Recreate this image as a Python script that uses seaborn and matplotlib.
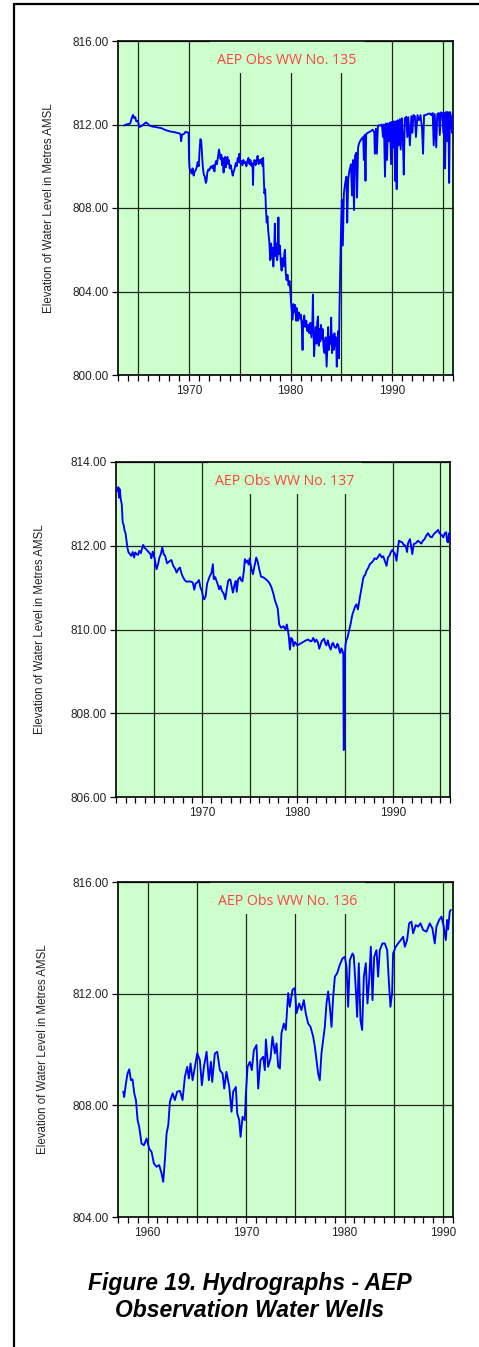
import matplotlib
matplotlib.use("Agg")
import matplotlib.pyplot as plt
import matplotlib.ticker as mticker
from matplotlib.patches import Rectangle
from matplotlib.lines import Line2D
import seaborn as sns
import pandas as pd

# ---------------- data ----------------
t135 = [1963.60, 1963.80, 1964.00, 1964.20, 1964.35, 1964.48, 1964.60, 1964.70, 1964.80, 1964.95,
        1965.10, 1965.30, 1965.50, 1965.75, 1965.90, 1966.10, 1966.40, 1966.70, 1967.00, 1967.30,
        1967.60, 1967.90, 1968.20, 1968.50, 1968.80, 1969.00, 1969.15, 1969.22, 1969.30, 1969.50,
        1969.65, 1969.85, 1969.95, 1970.00, 1970.05, 1970.15, 1970.25, 1970.35, 1970.45, 1970.55,
        1970.65, 1970.75, 1970.85, 1970.95, 1971.05, 1971.12, 1971.20, 1971.28, 1971.35, 1971.45,
        1971.55, 1971.65, 1971.72, 1971.80, 1971.90, 1972.00, 1972.10, 1972.20, 1972.30, 1972.40,
        1972.50, 1972.55, 1972.65, 1972.75, 1972.85, 1972.95, 1973.02, 1973.10, 1973.18, 1973.25,
        1973.32, 1973.40, 1973.48, 1973.55, 1973.62, 1973.70, 1973.78, 1973.85, 1973.92, 1974.00,
        1974.10, 1974.20, 1974.30, 1974.40, 1974.50, 1974.60, 1974.70, 1974.80, 1974.88, 1974.95,
        1975.05, 1975.15, 1975.25, 1975.35, 1975.45, 1975.55, 1975.65, 1975.75, 1975.85, 1975.95,
        1976.05, 1976.15, 1976.25, 1976.30, 1976.35, 1976.45, 1976.55, 1976.65, 1976.75, 1976.85,
        1976.95, 1977.05, 1977.15, 1977.25, 1977.30, 1977.35, 1977.42, 1977.50, 1977.58, 1977.65,
        1977.72, 1977.80, 1977.90, 1978.00, 1978.08, 1978.15, 1978.22, 1978.30, 1978.38, 1978.45,
        1978.52, 1978.60, 1978.68, 1978.75, 1978.80, 1978.86, 1978.95, 1979.05, 1979.12, 1979.20,
        1979.30, 1979.40, 1979.45, 1979.52, 1979.60, 1979.70, 1979.80, 1979.90, 1979.95, 1980.05,
        1980.12, 1980.20, 1980.28, 1980.36, 1980.45, 1980.55, 1980.62, 1980.72, 1980.80, 1980.90,
        1981.00, 1981.10, 1981.18, 1981.25, 1981.35, 1981.45, 1981.55, 1981.65, 1981.75, 1981.85,
        1981.95, 1982.05, 1982.15, 1982.20, 1982.25, 1982.32, 1982.40, 1982.48, 1982.55, 1982.62,
        1982.70, 1982.78, 1982.85, 1982.92, 1983.00, 1983.08, 1983.16, 1983.25, 1983.35, 1983.45,
        1983.55, 1983.62, 1983.70, 1983.78, 1983.86, 1983.94, 1984.00, 1984.08, 1984.16, 1984.24,
        1984.32, 1984.40, 1984.48, 1984.55, 1984.62, 1984.70, 1984.76, 1984.82, 1984.90, 1984.96,
        1985.05, 1985.15, 1985.25, 1985.38, 1985.50, 1985.58, 1985.68, 1985.80, 1985.95, 1986.05,
        1986.15, 1986.25, 1986.35, 1986.48, 1986.55, 1986.65, 1986.75, 1986.90, 1987.05, 1987.15,
        1987.22, 1987.30, 1987.38, 1987.45, 1987.60, 1987.80, 1987.95, 1988.10, 1988.25, 1988.30,
        1988.40, 1988.50, 1988.60, 1988.70, 1988.85, 1989.00, 1989.10, 1989.20, 1989.30, 1989.40,
        1989.50, 1989.60, 1989.72, 1989.80, 1989.90, 1990.00, 1990.10, 1990.20, 1990.30, 1990.38,
        1990.45, 1990.55, 1990.65, 1990.75, 1990.85, 1990.95, 1991.05, 1991.15, 1991.25, 1991.40,
        1991.50, 1991.60, 1991.75, 1991.90, 1992.00, 1992.10, 1992.25, 1992.35, 1992.50, 1992.65,
        1992.80, 1992.95, 1993.05, 1993.15, 1993.30, 1993.50, 1993.70, 1993.85, 1994.00, 1994.10,
        1994.20, 1994.35, 1994.45, 1994.60, 1994.70, 1994.80, 1994.95, 1995.05, 1995.15, 1995.22,
        1995.30, 1995.40, 1995.48, 1995.55, 1995.62, 1995.70, 1995.80, 1995.90, 1996.00]
h135 = [811.95, 812.00, 812.02, 812.05, 812.30, 812.46, 812.30, 812.35, 812.15, 812.18,
        811.88, 811.92, 812.00, 812.10, 812.05, 811.95, 811.90, 811.88, 811.85, 811.82,
        811.75, 811.70, 811.66, 811.64, 811.60, 811.58, 811.55, 811.20, 811.50, 811.55,
        811.65, 811.62, 811.60, 810.30, 809.90, 809.80, 809.65, 809.90, 809.55, 809.75,
        809.80, 809.95, 810.20, 810.00, 810.90, 811.30, 811.20, 810.60, 810.00, 809.60,
        809.50, 809.20, 809.30, 809.70, 809.85, 809.80, 809.95, 810.00, 809.90, 810.05,
        809.75, 810.00, 810.25, 810.10, 810.45, 810.80, 810.60, 810.35, 810.55, 810.05,
        810.40, 809.70, 810.30, 810.45, 809.95, 810.35, 810.45, 810.10, 810.30, 809.90,
        810.05, 809.80, 809.55, 809.75, 809.90, 810.15, 810.00, 810.40, 810.20, 810.60,
        810.15, 810.25, 810.05, 810.30, 810.15, 810.20, 810.00, 810.25, 810.40, 810.10,
        810.30, 810.00, 810.15, 809.10, 810.10, 810.30, 810.05, 810.25, 810.50, 810.10,
        810.30, 810.15, 810.35, 810.00, 810.40, 809.60, 808.70, 808.90, 807.90, 807.30,
        807.60, 806.90, 806.40, 805.50, 806.30, 805.60, 806.10, 805.20, 805.80, 807.25,
        805.70, 806.30, 805.50, 806.00, 807.55, 805.80, 806.20, 805.30, 805.00, 805.60,
        805.20, 805.90, 806.00, 804.90, 804.55, 804.80, 804.30, 804.50, 804.20, 803.45,
        803.10, 802.65, 803.40, 803.00, 803.35, 802.60, 803.20, 802.60, 803.00, 802.70,
        802.90, 802.40, 801.20, 802.60, 802.85, 802.30, 802.60, 802.10, 802.40, 802.00,
        802.50, 801.80, 802.60, 803.85, 802.20, 800.90, 801.80, 802.30, 801.50, 802.50,
        802.80, 801.40, 802.20, 801.60, 802.40, 801.70, 802.20, 801.30, 801.05, 801.80,
        800.40, 801.30, 802.30, 801.20, 801.80, 801.50, 802.75, 801.05, 801.90, 801.20,
        802.00, 801.40, 801.80, 800.40, 801.60, 802.10, 800.80, 803.30, 805.20, 806.80,
        808.40, 806.20, 808.70, 809.20, 809.50, 807.30, 809.40, 809.80, 810.10, 808.60,
        810.30, 807.90, 810.50, 810.65, 808.50, 810.90, 811.10, 811.25, 811.35, 811.40,
        810.30, 811.50, 809.30, 811.55, 811.60, 811.65, 811.70, 811.75, 811.60, 810.60,
        811.80, 810.60, 811.90, 811.97, 811.95, 812.00, 811.40, 812.00, 809.50, 812.05,
        810.30, 812.05, 811.20, 812.10, 810.10, 812.13, 810.90, 812.15, 809.30, 812.15,
        808.90, 812.20, 811.00, 812.25, 810.80, 812.30, 811.50, 809.60, 812.30, 812.37,
        811.40, 812.35, 811.00, 812.40, 811.60, 812.45, 812.40, 811.40, 812.45, 812.20,
        812.45, 811.80, 810.60, 812.45, 812.45, 812.50, 812.53, 812.45, 812.55, 811.00,
        812.50, 810.90, 812.50, 812.55, 811.50, 812.58, 812.55, 811.60, 812.55, 809.90,
        812.60, 811.20, 812.60, 812.20, 809.20, 812.60, 812.40, 811.60, 812.55]

t137 = [1961.15, 1961.25, 1961.32, 1961.40, 1961.50, 1961.60, 1961.70, 1961.80, 1961.90, 1962.00,
        1962.10, 1962.20, 1962.30, 1962.45, 1962.60, 1962.75, 1962.90, 1963.00, 1963.15, 1963.30,
        1963.45, 1963.60, 1963.75, 1963.85, 1964.00, 1964.15, 1964.30, 1964.45, 1964.60, 1964.70,
        1964.85, 1964.95, 1965.05, 1965.15, 1965.25, 1965.40, 1965.55, 1965.70, 1965.85, 1966.00,
        1966.15, 1966.35, 1966.55, 1966.80, 1967.00, 1967.20, 1967.35, 1967.55, 1967.70, 1967.85,
        1968.00, 1968.20, 1968.40, 1968.65, 1968.90, 1969.05, 1969.20, 1969.35, 1969.50, 1969.70,
        1969.85, 1970.00, 1970.15, 1970.25, 1970.40, 1970.55, 1970.65, 1970.80, 1971.00, 1971.15,
        1971.25, 1971.40, 1971.55, 1971.70, 1971.80, 1971.95, 1972.10, 1972.30, 1972.45, 1972.60,
        1972.75, 1972.90, 1973.00, 1973.10, 1973.25, 1973.40, 1973.55, 1973.65, 1973.80, 1974.00,
        1974.10, 1974.25, 1974.40, 1974.50, 1974.60, 1974.75, 1974.90, 1975.00, 1975.10, 1975.20,
        1975.35, 1975.50, 1975.70, 1975.85, 1976.00, 1976.20, 1976.40, 1976.60, 1976.90, 1977.10,
        1977.30, 1977.50, 1977.65, 1977.80, 1977.95, 1978.10, 1978.30, 1978.55, 1978.75, 1978.90,
        1979.00, 1979.10, 1979.23, 1979.35, 1979.50, 1979.60, 1979.75, 1980.00, 1980.30, 1980.60,
        1980.90, 1981.15, 1981.35, 1981.50, 1981.67, 1981.85, 1982.00, 1982.15, 1982.30, 1982.45,
        1982.55, 1982.70, 1982.80, 1982.95, 1983.05, 1983.20, 1983.35, 1983.50, 1983.65, 1983.75,
        1983.90, 1984.05, 1984.20, 1984.30, 1984.40, 1984.50, 1984.62, 1984.75, 1984.82, 1984.86,
        1984.90, 1984.95, 1985.00, 1985.05, 1985.15, 1985.25, 1985.40, 1985.50, 1985.60, 1985.70,
        1985.80, 1985.90, 1986.05, 1986.20, 1986.35, 1986.55, 1986.70, 1986.80, 1986.90, 1987.00,
        1987.10, 1987.25, 1987.45, 1987.60, 1987.80, 1987.95, 1988.10, 1988.30, 1988.50, 1988.65,
        1988.85, 1989.00, 1989.15, 1989.35, 1989.50, 1989.65, 1989.80, 1989.95, 1990.10, 1990.25,
        1990.40, 1990.55, 1990.65, 1990.80, 1991.00, 1991.15, 1991.35, 1991.50, 1991.60, 1991.80,
        1992.05, 1992.20, 1992.40, 1992.65, 1992.85, 1993.00, 1993.15, 1993.35, 1993.50, 1993.70,
        1993.90, 1994.10, 1994.25, 1994.40, 1994.60, 1994.75, 1994.90, 1995.00, 1995.15, 1995.30,
        1995.45, 1995.60, 1995.70, 1995.80, 1995.90, 1996.00]
h137 = [813.30, 813.40, 813.15, 813.35, 813.10, 813.00, 812.56, 812.50, 812.36, 812.30,
        812.12, 811.95, 811.85, 811.80, 811.76, 811.85, 811.72, 811.84, 811.80, 811.78,
        811.88, 811.82, 811.95, 812.02, 811.95, 811.92, 811.88, 811.84, 811.80, 811.70,
        811.86, 811.76, 811.70, 811.55, 811.44, 811.55, 811.72, 811.80, 811.96, 811.80,
        811.76, 811.58, 811.62, 811.66, 811.52, 811.45, 811.36, 811.45, 811.48, 811.35,
        811.26, 811.18, 811.14, 811.15, 811.14, 811.12, 810.95, 811.10, 811.12, 811.18,
        811.00, 810.92, 810.75, 810.72, 810.80, 811.10, 811.16, 811.26, 811.35, 811.56,
        811.20, 811.25, 811.15, 811.05, 810.96, 811.04, 810.92, 810.85, 810.72, 810.95,
        811.16, 811.20, 811.18, 811.05, 810.88, 811.05, 811.16, 810.90, 811.20, 811.25,
        811.18, 811.15, 811.40, 811.68, 811.60, 811.65, 811.55, 811.70, 811.55, 811.44,
        811.32, 811.50, 811.72, 811.62, 811.45, 811.26, 811.25, 811.22, 811.16, 811.10,
        811.00, 810.85, 810.70, 810.60, 810.50, 810.12, 810.04, 810.08, 810.00, 810.12,
        810.00, 809.85, 809.52, 809.80, 809.76, 809.60, 809.70, 809.62, 809.66, 809.70,
        809.74, 809.76, 809.72, 809.72, 809.80, 809.70, 809.76, 809.70, 809.54, 809.65,
        809.72, 809.76, 809.78, 809.66, 809.62, 809.74, 809.60, 809.52, 809.66, 809.68,
        809.58, 809.56, 809.66, 809.62, 809.50, 809.44, 809.55, 809.48, 809.40, 807.12,
        807.15, 808.84, 809.45, 809.64, 809.75, 809.80, 809.95, 810.04, 810.15, 810.28,
        810.38, 810.44, 810.55, 810.60, 810.48, 810.76, 810.95, 811.08, 811.22, 811.28,
        811.30, 811.40, 811.48, 811.56, 811.60, 811.64, 811.70, 811.68, 811.75, 811.80,
        811.72, 811.75, 811.65, 811.52, 811.72, 811.76, 811.85, 811.90, 811.85, 811.80,
        811.64, 811.95, 812.12, 812.10, 812.08, 812.02, 812.00, 811.85, 812.06, 812.16,
        811.80, 812.04, 812.06, 812.12, 812.08, 812.05, 812.12, 812.16, 812.24, 812.30,
        812.22, 812.20, 812.26, 812.30, 812.34, 812.38, 812.30, 812.28, 812.25, 812.20,
        812.30, 812.32, 812.10, 812.08, 812.30, 812.30]

t136 = [1957.53, 1957.63, 1957.80, 1957.97, 1958.14, 1958.31, 1958.48, 1958.65, 1958.82, 1958.99,
        1959.15, 1959.39, 1959.63, 1959.90, 1960.17, 1960.41, 1960.64, 1960.91, 1961.18, 1961.42,
        1961.59, 1961.76, 1961.93, 1962.10, 1962.27, 1962.54, 1962.77, 1963.01, 1963.28, 1963.55,
        1963.79, 1964.02, 1964.19, 1964.36, 1964.57, 1964.80, 1965.04, 1965.31, 1965.51, 1965.72,
        1965.99, 1966.22, 1966.43, 1966.56, 1966.83, 1967.07, 1967.34, 1967.61, 1967.78, 1968.01,
        1968.29, 1968.52, 1968.69, 1968.96, 1969.10, 1969.30, 1969.44, 1969.64, 1969.87, 1969.98,
        1970.15, 1970.38, 1970.58, 1970.79, 1971.06, 1971.23, 1971.46, 1971.73, 1971.90, 1972.01,
        1972.24, 1972.48, 1972.68, 1972.92, 1973.09, 1973.26, 1973.43, 1973.59, 1973.83, 1974.03,
        1974.27, 1974.44, 1974.71, 1974.95, 1975.12, 1975.39, 1975.62, 1975.86, 1976.06, 1976.30,
        1976.54, 1976.81, 1976.98, 1977.15, 1977.31, 1977.48, 1977.65, 1977.82, 1977.99, 1978.16,
        1978.33, 1978.50, 1978.67, 1978.84, 1979.01, 1979.24, 1979.51, 1979.78, 1980.02, 1980.19,
        1980.36, 1980.53, 1980.80, 1980.93, 1981.14, 1981.27, 1981.44, 1981.61, 1981.78, 1981.95,
        1982.15, 1982.32, 1982.49, 1982.66, 1982.83, 1983.00, 1983.23, 1983.40, 1983.57, 1983.84,
        1984.08, 1984.32, 1984.48, 1984.65, 1984.82, 1984.92, 1985.19, 1985.43, 1985.70, 1985.94,
        1986.11, 1986.34, 1986.55, 1986.78, 1986.95, 1987.22, 1987.46, 1987.70, 1987.97, 1988.31,
        1988.64, 1988.91, 1989.15, 1989.32, 1989.59, 1989.83, 1990.06, 1990.27, 1990.40, 1990.50,
        1990.67, 1990.77]
h136 = [808.49, 808.30, 808.78, 809.14, 809.29, 808.90, 808.93, 808.43, 808.19, 807.47,
        807.23, 806.63, 806.57, 806.81, 806.45, 806.33, 805.92, 805.80, 805.86, 805.56,
        805.26, 806.04, 806.99, 807.29, 808.13, 808.43, 808.19, 808.49, 808.52, 808.19,
        809.02, 809.38, 808.96, 809.50, 808.90, 809.38, 809.86, 809.62, 808.72, 809.38,
        809.92, 808.90, 809.56, 808.84, 809.86, 809.92, 809.26, 809.14, 808.60, 809.20,
        808.66, 807.77, 808.49, 808.66, 807.71, 807.47, 806.87, 807.59, 807.47, 808.43,
        809.38, 809.56, 809.26, 809.98, 810.16, 808.60, 809.62, 809.74, 809.26, 810.36,
        809.38, 809.68, 810.46, 809.86, 810.22, 809.38, 809.32, 810.58, 810.93, 810.70,
        812.02, 811.53, 812.14, 812.20, 811.30, 811.65, 811.41, 811.77, 811.29, 810.93,
        810.81, 810.46, 810.10, 809.62, 809.14, 808.90, 809.86, 810.34, 810.81, 811.65,
        812.08, 811.53, 810.81, 811.89, 812.61, 812.73, 813.03, 813.26, 813.32, 812.97,
        811.53, 813.20, 813.44, 813.35, 812.13, 811.17, 813.09, 811.05, 810.70, 812.61,
        813.09, 811.65, 812.49, 813.68, 811.77, 813.32, 813.56, 812.61, 813.56, 813.80,
        813.80, 813.56, 812.49, 811.53, 812.01, 813.44, 813.68, 813.80, 813.92, 814.04,
        813.68, 813.92, 814.52, 814.58, 814.16, 814.46, 814.40, 814.52, 814.28, 814.22,
        814.52, 814.34, 813.80, 814.40, 814.64, 814.76, 814.40, 813.92, 814.64, 814.30,
        814.94, 815.00]

titles = ["AEP Obs WW No. 135", "AEP Obs WW No. 137", "AEP Obs WW No. 136"]
ylims = [(800, 816), (806, 814), (804, 816)]
ysteps = [4, 2, 4]
xlims = [(1963, 1996), (1961, 1996), (1957, 1991)]
ylabel = "Elevation of Water Level in Metres AMSL"
caption = "Figure 19. Hydrographs - AEP\nObservation Water Wells"

# ---------------- style ----------------
sns.set_theme(style="ticks")
plt.rcParams['font.family'] = ['Liberation Sans', 'DejaVu Sans']

W, H = 479, 1347
fig = plt.figure(figsize=(W / 100, H / 100), dpi=100)
fig.patch.set_facecolor("white")

# axes boxes in pixels: left, top, right, bottom
boxes = [(118, 41, 453, 375), (116, 462, 450, 797), (118, 882, 453, 1217)]
ylab_x = [-0.188, -0.21, -0.206]

series = [(t135, h135), (t137, h137), (t136, h136)]

for i, ((l, t, r, b), (tt, hh)) in enumerate(zip(boxes, series)):
    ax = fig.add_axes([l / W, 1 - b / H, (r - l) / W, (b - t) / H])
    ax.set_facecolor("#CCFFCC")
    df = pd.DataFrame({"year": tt, "level": hh})
    sns.lineplot(data=df, x="year", y="level", ax=ax, color="#0000FF",
                 linewidth=1.35, estimator=None, sort=False, zorder=3)
    ax.set_xlim(*xlims[i])
    ax.set_ylim(*ylims[i])
    ax.xaxis.set_major_locator(mticker.MultipleLocator(5))
    ax.xaxis.set_minor_locator(mticker.MultipleLocator(1))
    ax.xaxis.set_major_formatter(mticker.FuncFormatter(
        lambda v, p: f"{int(round(v))}" if int(round(v)) % 10 == 0 else ""))
    ax.yaxis.set_major_locator(mticker.MultipleLocator(ysteps[i]))
    ax.yaxis.set_major_formatter(mticker.FormatStrFormatter("%.2f"))
    ax.grid(True, which="major", color="black", linewidth=0.9, alpha=0.85)
    ax.set_axisbelow(True)
    ax.tick_params(axis="both", which="both", direction="out", length=4,
                   width=0.9, color="black", labelsize=8.5, labelcolor="#222222", pad=3)
    ax.tick_params(axis="x", which="major", pad=3.5)
    for s in ax.spines.values():
        s.set_color("black")
        s.set_linewidth(1.2)
        s.set_visible(True)
    ax.set_xlabel("")
    ax.set_ylabel(ylabel, fontsize=8.3, color="#222222")
    ax.yaxis.set_label_coords(ylab_x[i], 0.5)
    # title area (hides grid lines behind the title)
    ax.add_patch(Rectangle((0.275, 0.904), 0.462, 0.096, transform=ax.transAxes,
                           facecolor="#CCFFCC", edgecolor="none", zorder=1))
    ax.text(0.505, 0.943, titles[i], transform=ax.transAxes, ha="center", va="center",
            fontsize=10.2, color="#FF4040", family=["Open Sans", "DejaVu Sans"], zorder=4)

fig.text(250 / W, 1 - 1297 / H, caption, ha="center", va="center", fontsize=16.5,
         fontweight="bold", fontstyle="italic", linespacing=1.2, color="black")

# page border lines
fig.add_artist(Line2D([14 / W, 14 / W], [0, 1 - 4 / H], color="black", linewidth=1.6))
fig.add_artist(Line2D([14 / W, 1], [1 - 4 / H, 1 - 4 / H], color="black", linewidth=1.6))

fig.savefig("out.png", dpi=100, facecolor="white")
